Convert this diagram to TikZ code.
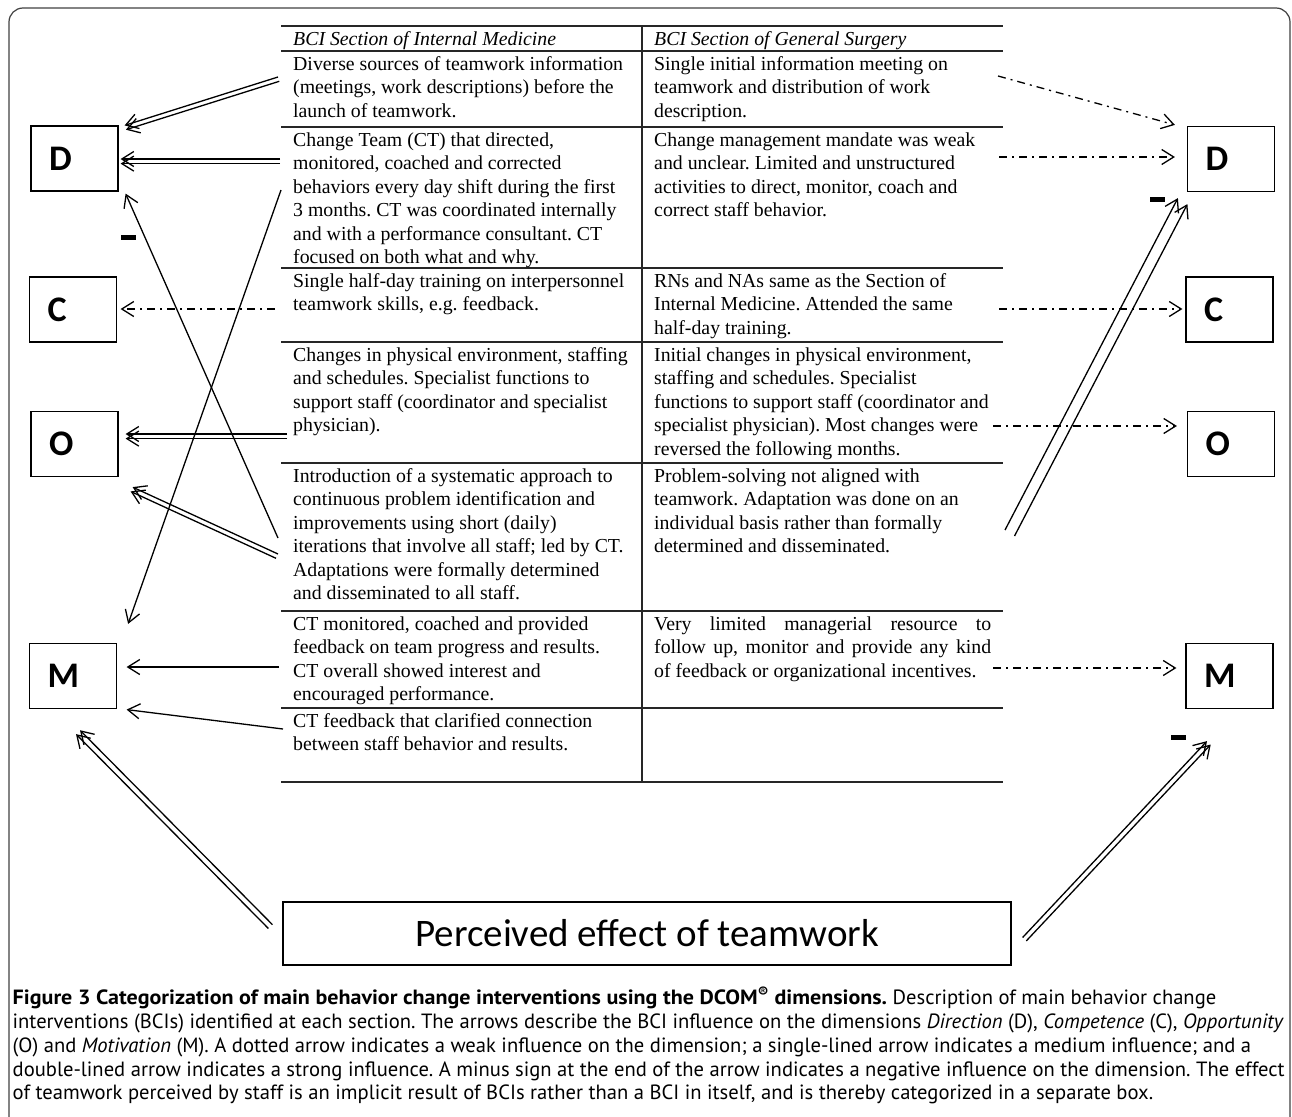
\documentclass[tikz,border=0pt]{standalone}
\usepackage{fontspec}
\usepackage{graphicx}
\setmainfont{Liberation Serif}
\newfontfamily\letterfont{Carlito}
\newfontfamily\captionfont{PT Sans}
\usetikzlibrary{arrows.meta,positioning}
\frenchspacing
\tikzset{
x=1pt, y=-1pt, % one unit is one pixel of the figure, y runs downwards
>={Straight Barb[length=12pt,width=15pt]}, % open arrow heads
dimbox/.style={draw, line width=1.2pt, minimum width=87pt, minimum height=65pt, inner xsep=18pt, text width=51pt, align=left, font=\letterfont\bfseries\fontsize{36}{36}\selectfont}, % the D, C, O and M boxes
cell/.style={anchor=north west, inner sep=0pt, text width=350pt, align=left, font=\fontsize{19.8}{23.4}\selectfont, execute at begin node={\spaceskip=0pt\xspaceskip=0pt\strut}}, % text of one table cell
tabline/.style={line width=1.6pt, draw=black!85}, % lines of the table
weak/.style={->, line width=1.3pt, dash pattern=on 8pt off 5pt on 2pt off 5pt}, % dotted arrow
medium/.style={->, line width=1.3pt}, % single-lined arrow
strong/.style={medium, preaction={draw, ->, line width=1.3pt, transform canvas={shift={#1}}}}, % double-lined arrow, #1 = offset of the second line
minus/.style={fill, inner sep=0pt, minimum width=15pt, minimum height=5pt}, % minus sign
}

\begin{document}
\begin{tikzpicture}
\useasboundingbox (0,0) rectangle (1292,1116);
\draw[line width=1.2pt, draw=black!75, rounded corners=14pt] (9,8) rectangle (1290,1130);

\draw[tabline, line width=2.6pt] (281,26) -- (1003,26) (281,782) -- (1003,782);
\draw[tabline, line width=2pt] (281,51) -- (1003,51);
\draw[tabline] (281,127) -- (1003,127) (281,268) -- (1003,268) (281,342) -- (1003,342)
  (281,463) -- (1003,463) (281,611) -- (1003,611) (281,708) -- (1003,708) (642,26) -- (642,782);

\node[cell, font=\itshape\fontsize{19.8}{23.4}\selectfont] (hd1) at (293,29) {BCI Section of Internal Medicine};
\node[cell, font=\itshape\fontsize{19.8}{23.4}\selectfont] (hd2) at (654,29) {BCI Section of General Surgery};
\node[cell] (im1) at (293,54) {Diverse sources of teamwork information\\(meetings, work descriptions) before the\\launch of teamwork.};
\node[cell] (im2) at (293,130) {Change Team (CT) that directed,\\monitored, coached and corrected\\behaviors every day shift during the first\\3 months. CT was coordinated internally\\and with a performance consultant. CT\\focused on both what and why.};
\node[cell] (im3) at (293,271) {Single half-day training on interpersonnel\\teamwork skills, e.g. feedback.};
\node[cell] (im4) at (293,345) {Changes in physical environment, staffing\\and schedules. Specialist functions to\\support staff (coordinator and specialist\\physician).};
\node[cell] (im5) at (293,466) {Introduction of a systematic approach to\\continuous problem identification and\\improvements using short (daily)\\iterations that involve all staff; led by CT.\\Adaptations were formally determined\\and disseminated to all staff.};
\node[cell] (im6) at (293,614) {CT monitored, coached and provided\\feedback on team progress and results.\\CT overall showed interest and\\encouraged performance.};
\node[cell] (im7) at (293,711) {CT feedback that clarified connection\\between staff behavior and results.};
\node[cell] (gs1) at (654,54) {Single initial information meeting on\\teamwork and distribution of work\\description.};
\node[cell] (gs2) at (654,130) {Change management mandate was weak\\and unclear. Limited and unstructured\\activities to direct, monitor, coach and\\correct staff behavior.};
\node[cell] (gs3) at (654,271) {RNs and NAs same as the Section of\\Internal Medicine. Attended the same\\half-day training.};
\node[cell] (gs4) at (654,345) {Initial changes in physical environment,\\staffing and schedules. Specialist\\functions to support staff (coordinator and\\specialist physician). Most changes were\\reversed the following months.};
\node[cell] (gs5) at (654,466) {Problem-solving not aligned with\\teamwork. Adaptation was done on an\\individual basis rather than formally\\determined and disseminated.};
\node[cell] (gs6) at (654,614) {\makebox[337pt][s]{Very limited managerial resource to}\\\makebox[337pt][s]{follow up, monitor and provide any kind}\\of feedback or organizational incentives.};

\node[dimbox] (D1) at (74.5,158.5) {D};
\node[dimbox] (C1) at (73,309.5) {C};
\node[dimbox] (O1) at (74.5,444) {O};
\node[dimbox] (M1) at (73,676) {M};
\node[dimbox] (D2) at (1231,159) {D};
\node[dimbox] (C2) at (1229.5,309.5) {C};
\node[dimbox] (O2) at (1231,444) {O};
\node[dimbox] (M2) at (1229.5,676) {M};

\node[draw, line width=1.2pt, minimum width=728pt, minimum height=63pt, font=\letterfont\fontsize{39}{39}\selectfont] (pe) at (647,933.5) {Perceived effect of teamwork};

\node[minus] (neg1) at (128,237) {};
\node[minus] (neg2) at (1157,199) {};
\node[minus] (neg3) at (1178,737) {};

\coordinate (im1a) at (278,77);
\coordinate (im2a) at (280,159);
\coordinate (im2b) at (281,190);
\coordinate (im3a) at (275,309);
\coordinate (im4a) at (287,434);
\coordinate (im5a) at (278,554);
\coordinate (im5b) at (278,538);
\coordinate (im6a) at (279,667);
\coordinate (im7a) at (283,729);
\coordinate (gs1a) at (998,76);
\coordinate (gs2a) at (999,157);
\coordinate (gs3a) at (999,309);
\coordinate (gs4a) at (993,426);
\coordinate (gs5a) at (1005,530);
\coordinate (gs6a) at (993,668);

\draw
(im1a) edge[strong={(1.3,4.3)}] ([shift={(6,0)}]D1.north east)
(im2a) edge[strong={(0,4.6)}] ([shift={(2,0.5)}]D1.east)
(im5b) edge[medium] ([shift={(7,2)}]D1.south east)
(im2b) edge[medium] ([shift={(11,-19)}]M1.north east)
(im3a) edge[weak] ([shift={(3.5,-0.5)}]C1.east)
(im4a) edge[strong={(0,4.6)}] ([shift={(7,-10)}]O1.east)
(im5a) edge[strong={(-2,4.3)}] ([shift={(14,10)}]O1.south east)
(im6a) edge[medium] ([shift={(9.5,-9)}]M1.east)
(im7a) edge[medium] ([shift={(9.5,0.5)}]M1.south east)
([shift={(-14,-5)}]pe.west) edge[strong={(4,-3.9)}] ([shift={(3,25)}]M1.south)
(gs1a) edge[weak] ([shift={(-12,-1)}]D2.north west)
(gs2a) edge[weak] ([shift={(-12,-2)}]D2.west)
(gs3a) edge[weak] ([shift={(-3,-0.5)}]C2.west)
(gs4a) edge[weak] ([shift={(-10,-18)}]O2.west)
(gs6a) edge[weak] ([shift={(-9,-8)}]M2.west)
(gs5a) edge[strong={(9.5,6)}] ([shift={(-9,6)}]D2.south west)
([shift={(11,4)}]pe.east) edge[strong={(3.7,3.4)}] ([shift={(-22.5,32)}]M2.south)
;

\node[anchor=north west, inner sep=0pt, align=left, font=\captionfont\fontsize{20.6}{23.8}\selectfont, execute at begin node=\strut] (cap) at (12.5,986.3) {\scalebox{1.07}[1]{\bfseries Figure 3 Categorization of main behavior change interventions using the DCOM\textsuperscript{®} dimensions.} Description of main behavior change\\interventions (BCIs) identified at each section. The arrows describe the BCI influence on the dimensions \emph{Direction} (D), \emph{Competence} (C), \emph{Opportunity}\\(O) and \emph{Motivation} (M). A dotted arrow indicates a weak influence on the dimension; a single-lined arrow indicates a medium influence; and a\\double-lined arrow indicates a strong influence. A minus sign at the end of the arrow indicates a negative influence on the dimension. The effect\\of teamwork perceived by staff is an implicit result of BCIs rather than a BCI in itself, and is thereby categorized in a separate box.};
\end{tikzpicture}
\end{document}
